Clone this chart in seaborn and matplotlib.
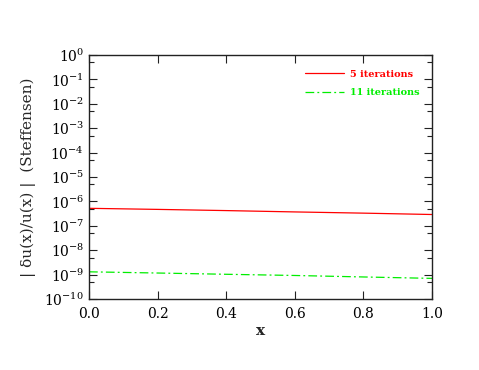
import numpy as np
import pandas as pd
import matplotlib
matplotlib.use("Agg")
import matplotlib.pyplot as plt
import seaborn as sns
from matplotlib.ticker import FixedLocator, NullFormatter

x_vals = [0.0, 0.2, 0.4, 0.6, 0.8, 1.0]
err_5 = [5.2e-7, 4.7e-7, 4.2e-7, 3.7e-7, 3.3e-7, 2.9e-7]
err_11 = [1.3e-9, 1.16e-9, 1.03e-9, 0.92e-9, 0.80e-9, 0.70e-9]
series_labels = ["5 iterations", "11 iterations"]
xticks = [0.0, 0.2, 0.4, 0.6, 0.8, 1.0]

sns.set_style("ticks")
plt.rcParams['font.family'] = ['DejaVu Serif']
plt.rcParams['mathtext.fontset'] = 'dejavuserif'

fig = plt.figure(figsize=(4.79, 3.70), dpi=100)
ax = fig.add_axes([0.1858, 0.1919, 0.9019 - 0.1858, 0.8514 - 0.1919])

df = pd.DataFrame({
    "x": x_vals * 2,
    "err": err_5 + err_11,
    "series": [series_labels[0]] * len(x_vals) + [series_labels[1]] * len(x_vals),
})

sns.lineplot(data=df[df.series == series_labels[0]], x="x", y="err", ax=ax,
             color="#ff0000", lw=0.9, label=series_labels[0])
sns.lineplot(data=df[df.series == series_labels[1]], x="x", y="err", ax=ax,
             color="#00ee00", lw=0.9, label=series_labels[1])
ax.lines[1].set_dashes([7, 2.5, 1.5, 2.5])

ax.set_yscale("log")
ax.set_xlim(0, 1)
ax.set_ylim(1e-10, 1)
ax.set_xticks(xticks)
ax.set_xticklabels([f"{t:.1f}" for t in xticks])
ax.yaxis.set_major_locator(FixedLocator([10.0**k for k in range(-10, 1)]))
ax.yaxis.set_minor_locator(FixedLocator([5 * 10.0**k for k in range(-10, 0)]))
ax.yaxis.set_minor_formatter(NullFormatter())

ax.tick_params(which="both", direction="in", top=True, right=True, labelsize=10, width=0.8, colors="#222222")
ax.tick_params(which="major", length=6)
ax.tick_params(which="minor", length=3.5)
ax.tick_params(axis="both", labelcolor="black")
ax.tick_params(axis="x", pad=6)
for s in ax.spines.values():
    s.set_linewidth(1.0)
    s.set_color("#222222")

ax.set_xlabel("x", fontsize=11, fontweight="bold", labelpad=2)
ax.set_ylabel("| δu(x)/u(x) |  (Steffensen)", fontsize=11, labelpad=6)

leg = ax.legend(loc="upper right", bbox_to_anchor=(0.99, 0.975), frameon=False,
                handlelength=4.0, handletextpad=0.6, labelspacing=0.95,
                prop={"size": 7, "weight": "bold"}, labelcolor="linecolor")

fig.savefig("out.png", dpi=100)
